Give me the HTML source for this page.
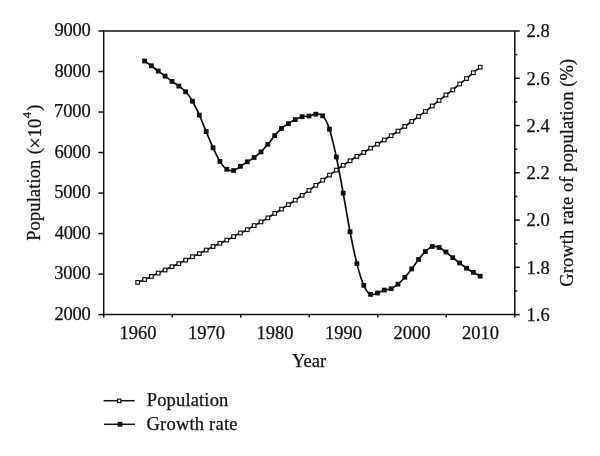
<!DOCTYPE html><html><head><meta charset="utf-8"><style>html,body{margin:0;padding:0;background:#fff;}svg{display:block;will-change:transform;}text{font-family:"Liberation Serif",serif;fill:#111;stroke:#111;stroke-width:0.25px;}</style></head><body>
<svg width="600" height="456" viewBox="0 0 600 456">
<g stroke="#111" stroke-width="1.5" fill="none" stroke-linecap="butt">
<path d="M103.7,31.0H514.8V314.6H103.7Z"/>
<path d="M98.4,31.00H103.7"/>
<path d="M98.4,71.51H103.7"/>
<path d="M98.4,112.03H103.7"/>
<path d="M98.4,152.54H103.7"/>
<path d="M98.4,193.06H103.7"/>
<path d="M98.4,233.57H103.7"/>
<path d="M98.4,274.09H103.7"/>
<path d="M98.4,314.60H103.7"/>
<path d="M514.8,31.00H519.8"/>
<path d="M514.8,54.63H517.3"/>
<path d="M514.8,78.27H519.8"/>
<path d="M514.8,101.90H517.3"/>
<path d="M514.8,125.53H519.8"/>
<path d="M514.8,149.17H517.3"/>
<path d="M514.8,172.80H519.8"/>
<path d="M514.8,196.43H517.3"/>
<path d="M514.8,220.07H519.8"/>
<path d="M514.8,243.70H517.3"/>
<path d="M514.8,267.33H519.8"/>
<path d="M514.8,290.97H517.3"/>
<path d="M514.8,314.60H519.8"/>
<path d="M103.70,314.6V317.6"/>
<path d="M172.22,314.6V317.6"/>
<path d="M240.73,314.6V317.6"/>
<path d="M309.25,314.6V317.6"/>
<path d="M377.77,314.6V317.6"/>
<path d="M446.28,314.6V317.6"/>
<path d="M514.80,314.6V317.6"/>
</g>
<path d="M137.70,282.40 C138.84,281.92 142.27,280.50 144.55,279.50 C146.83,278.50 149.12,277.47 151.40,276.40 C153.68,275.33 155.97,274.17 158.25,273.10 C160.53,272.03 162.82,271.07 165.10,270.00 C167.38,268.93 169.67,267.77 171.95,266.70 C174.23,265.63 176.52,264.70 178.80,263.60 C181.08,262.50 183.37,261.25 185.65,260.10 C187.93,258.95 190.22,257.78 192.50,256.70 C194.78,255.62 197.07,254.70 199.35,253.60 C201.63,252.50 203.92,251.28 206.20,250.10 C208.48,248.92 210.77,247.63 213.05,246.50 C215.33,245.37 217.62,244.37 219.90,243.30 C222.18,242.23 224.47,241.22 226.75,240.10 C229.03,238.98 231.32,237.78 233.60,236.60 C235.88,235.42 238.17,234.15 240.45,233.00 C242.73,231.85 245.02,230.93 247.30,229.70 C249.58,228.47 251.87,226.90 254.15,225.60 C256.43,224.30 258.72,223.18 261.00,221.90 C263.28,220.62 265.57,219.32 267.85,217.90 C270.13,216.48 272.42,214.87 274.70,213.40 C276.98,211.93 279.27,210.55 281.55,209.10 C283.83,207.65 286.12,206.18 288.40,204.70 C290.68,203.22 292.97,201.75 295.25,200.20 C297.53,198.65 299.82,197.03 302.10,195.40 C304.38,193.77 306.67,192.08 308.95,190.40 C311.23,188.72 313.52,187.00 315.80,185.30 C318.08,183.60 320.37,181.90 322.65,180.20 C324.93,178.50 327.22,176.78 329.50,175.10 C331.78,173.42 334.07,171.73 336.35,170.10 C338.63,168.47 340.92,166.85 343.20,165.30 C345.48,163.75 347.77,162.28 350.05,160.80 C352.33,159.32 354.62,157.78 356.90,156.40 C359.18,155.02 361.47,153.87 363.75,152.50 C366.03,151.13 368.32,149.58 370.60,148.20 C372.88,146.82 375.17,145.57 377.45,144.20 C379.73,142.83 382.02,141.42 384.30,140.00 C386.58,138.58 388.87,137.18 391.15,135.70 C393.43,134.22 395.72,132.65 398.00,131.10 C400.28,129.55 402.57,128.02 404.85,126.40 C407.13,124.78 409.42,123.05 411.70,121.40 C413.98,119.75 416.27,118.17 418.55,116.50 C420.83,114.83 423.12,113.15 425.40,111.40 C427.68,109.65 429.97,107.82 432.25,106.00 C434.53,104.18 436.82,102.33 439.10,100.50 C441.38,98.67 443.67,96.77 445.95,95.00 C448.23,93.23 450.52,91.73 452.80,89.90 C455.08,88.07 457.37,85.88 459.65,84.00 C461.93,82.12 464.22,80.48 466.50,78.60 C468.78,76.72 471.07,74.60 473.35,72.70 C475.63,70.80 479.06,68.12 480.20,67.20" stroke="#111" stroke-width="1.70" fill="none"/>
<rect x="135.87" y="280.57" width="3.65" height="3.65" fill="#fff" stroke="#111" stroke-width="1.15"/>
<rect x="142.72" y="277.68" width="3.65" height="3.65" fill="#fff" stroke="#111" stroke-width="1.15"/>
<rect x="149.57" y="274.57" width="3.65" height="3.65" fill="#fff" stroke="#111" stroke-width="1.15"/>
<rect x="156.42" y="271.28" width="3.65" height="3.65" fill="#fff" stroke="#111" stroke-width="1.15"/>
<rect x="163.27" y="268.18" width="3.65" height="3.65" fill="#fff" stroke="#111" stroke-width="1.15"/>
<rect x="170.12" y="264.88" width="3.65" height="3.65" fill="#fff" stroke="#111" stroke-width="1.15"/>
<rect x="176.97" y="261.78" width="3.65" height="3.65" fill="#fff" stroke="#111" stroke-width="1.15"/>
<rect x="183.82" y="258.28" width="3.65" height="3.65" fill="#fff" stroke="#111" stroke-width="1.15"/>
<rect x="190.67" y="254.87" width="3.65" height="3.65" fill="#fff" stroke="#111" stroke-width="1.15"/>
<rect x="197.52" y="251.77" width="3.65" height="3.65" fill="#fff" stroke="#111" stroke-width="1.15"/>
<rect x="204.37" y="248.27" width="3.65" height="3.65" fill="#fff" stroke="#111" stroke-width="1.15"/>
<rect x="211.22" y="244.67" width="3.65" height="3.65" fill="#fff" stroke="#111" stroke-width="1.15"/>
<rect x="218.07" y="241.47" width="3.65" height="3.65" fill="#fff" stroke="#111" stroke-width="1.15"/>
<rect x="224.92" y="238.27" width="3.65" height="3.65" fill="#fff" stroke="#111" stroke-width="1.15"/>
<rect x="231.77" y="234.77" width="3.65" height="3.65" fill="#fff" stroke="#111" stroke-width="1.15"/>
<rect x="238.62" y="231.17" width="3.65" height="3.65" fill="#fff" stroke="#111" stroke-width="1.15"/>
<rect x="245.47" y="227.87" width="3.65" height="3.65" fill="#fff" stroke="#111" stroke-width="1.15"/>
<rect x="252.32" y="223.77" width="3.65" height="3.65" fill="#fff" stroke="#111" stroke-width="1.15"/>
<rect x="259.18" y="220.07" width="3.65" height="3.65" fill="#fff" stroke="#111" stroke-width="1.15"/>
<rect x="266.03" y="216.07" width="3.65" height="3.65" fill="#fff" stroke="#111" stroke-width="1.15"/>
<rect x="272.88" y="211.57" width="3.65" height="3.65" fill="#fff" stroke="#111" stroke-width="1.15"/>
<rect x="279.72" y="207.27" width="3.65" height="3.65" fill="#fff" stroke="#111" stroke-width="1.15"/>
<rect x="286.57" y="202.87" width="3.65" height="3.65" fill="#fff" stroke="#111" stroke-width="1.15"/>
<rect x="293.43" y="198.37" width="3.65" height="3.65" fill="#fff" stroke="#111" stroke-width="1.15"/>
<rect x="300.27" y="193.57" width="3.65" height="3.65" fill="#fff" stroke="#111" stroke-width="1.15"/>
<rect x="307.12" y="188.57" width="3.65" height="3.65" fill="#fff" stroke="#111" stroke-width="1.15"/>
<rect x="313.97" y="183.47" width="3.65" height="3.65" fill="#fff" stroke="#111" stroke-width="1.15"/>
<rect x="320.82" y="178.37" width="3.65" height="3.65" fill="#fff" stroke="#111" stroke-width="1.15"/>
<rect x="327.68" y="173.27" width="3.65" height="3.65" fill="#fff" stroke="#111" stroke-width="1.15"/>
<rect x="334.52" y="168.27" width="3.65" height="3.65" fill="#fff" stroke="#111" stroke-width="1.15"/>
<rect x="341.38" y="163.47" width="3.65" height="3.65" fill="#fff" stroke="#111" stroke-width="1.15"/>
<rect x="348.22" y="158.97" width="3.65" height="3.65" fill="#fff" stroke="#111" stroke-width="1.15"/>
<rect x="355.07" y="154.57" width="3.65" height="3.65" fill="#fff" stroke="#111" stroke-width="1.15"/>
<rect x="361.93" y="150.67" width="3.65" height="3.65" fill="#fff" stroke="#111" stroke-width="1.15"/>
<rect x="368.77" y="146.37" width="3.65" height="3.65" fill="#fff" stroke="#111" stroke-width="1.15"/>
<rect x="375.62" y="142.37" width="3.65" height="3.65" fill="#fff" stroke="#111" stroke-width="1.15"/>
<rect x="382.47" y="138.17" width="3.65" height="3.65" fill="#fff" stroke="#111" stroke-width="1.15"/>
<rect x="389.32" y="133.87" width="3.65" height="3.65" fill="#fff" stroke="#111" stroke-width="1.15"/>
<rect x="396.18" y="129.27" width="3.65" height="3.65" fill="#fff" stroke="#111" stroke-width="1.15"/>
<rect x="403.02" y="124.58" width="3.65" height="3.65" fill="#fff" stroke="#111" stroke-width="1.15"/>
<rect x="409.88" y="119.58" width="3.65" height="3.65" fill="#fff" stroke="#111" stroke-width="1.15"/>
<rect x="416.72" y="114.67" width="3.65" height="3.65" fill="#fff" stroke="#111" stroke-width="1.15"/>
<rect x="423.57" y="109.58" width="3.65" height="3.65" fill="#fff" stroke="#111" stroke-width="1.15"/>
<rect x="430.43" y="104.17" width="3.65" height="3.65" fill="#fff" stroke="#111" stroke-width="1.15"/>
<rect x="437.27" y="98.67" width="3.65" height="3.65" fill="#fff" stroke="#111" stroke-width="1.15"/>
<rect x="444.12" y="93.17" width="3.65" height="3.65" fill="#fff" stroke="#111" stroke-width="1.15"/>
<rect x="450.97" y="88.08" width="3.65" height="3.65" fill="#fff" stroke="#111" stroke-width="1.15"/>
<rect x="457.82" y="82.17" width="3.65" height="3.65" fill="#fff" stroke="#111" stroke-width="1.15"/>
<rect x="464.67" y="76.77" width="3.65" height="3.65" fill="#fff" stroke="#111" stroke-width="1.15"/>
<rect x="471.52" y="70.88" width="3.65" height="3.65" fill="#fff" stroke="#111" stroke-width="1.15"/>
<rect x="478.38" y="65.38" width="3.65" height="3.65" fill="#fff" stroke="#111" stroke-width="1.15"/>
<path d="M144.55,61.00 C145.69,61.80 149.12,64.12 151.40,65.80 C153.68,67.48 155.97,69.38 158.25,71.10 C160.53,72.82 162.82,74.38 165.10,76.10 C167.38,77.82 169.67,79.73 171.95,81.40 C174.23,83.07 176.52,84.37 178.80,86.10 C181.08,87.83 183.37,89.28 185.65,91.80 C187.93,94.32 190.22,97.32 192.50,101.20 C194.78,105.08 197.07,110.03 199.35,115.10 C201.63,120.17 203.92,126.17 206.20,131.60 C208.48,137.03 210.77,142.73 213.05,147.70 C215.33,152.67 217.62,157.80 219.90,161.40 C222.18,165.00 224.47,167.78 226.75,169.30 C229.03,170.82 231.32,171.00 233.60,170.50 C235.88,170.00 238.17,167.75 240.45,166.30 C242.73,164.85 245.02,163.27 247.30,161.80 C249.58,160.33 251.87,159.15 254.15,157.50 C256.43,155.85 258.72,154.10 261.00,151.90 C263.28,149.70 265.57,147.02 267.85,144.30 C270.13,141.58 272.42,138.25 274.70,135.60 C276.98,132.95 279.27,130.40 281.55,128.40 C283.83,126.40 286.12,125.07 288.40,123.60 C290.68,122.13 292.97,120.75 295.25,119.60 C297.53,118.45 299.82,117.30 302.10,116.70 C304.38,116.10 306.67,116.42 308.95,116.00 C311.23,115.58 313.52,114.23 315.80,114.20 C318.08,114.17 320.37,113.30 322.65,115.80 C324.93,118.30 327.22,122.33 329.50,129.20 C331.78,136.07 334.07,146.35 336.35,157.00 C338.63,167.65 340.92,180.63 343.20,193.10 C345.48,205.57 347.77,220.05 350.05,231.80 C352.33,243.55 354.62,254.68 356.90,263.60 C359.18,272.52 361.47,280.17 363.75,285.30 C366.03,290.43 368.32,293.12 370.60,294.40 C372.88,295.68 375.17,293.72 377.45,293.00 C379.73,292.28 382.02,290.82 384.30,290.10 C386.58,289.38 388.87,289.68 391.15,288.70 C393.43,287.72 395.72,286.10 398.00,284.20 C400.28,282.30 402.57,279.85 404.85,277.30 C407.13,274.75 409.42,271.87 411.70,268.90 C413.98,265.93 416.27,262.40 418.55,259.50 C420.83,256.60 423.12,253.67 425.40,251.50 C427.68,249.33 429.97,247.17 432.25,246.50 C434.53,245.83 436.82,246.58 439.10,247.50 C441.38,248.42 443.67,250.30 445.95,252.00 C448.23,253.70 450.52,255.87 452.80,257.70 C455.08,259.53 457.37,261.25 459.65,263.00 C461.93,264.75 464.22,266.63 466.50,268.20 C468.78,269.77 471.07,271.07 473.35,272.40 C475.63,273.73 479.06,275.57 480.20,276.20" stroke="#111" stroke-width="1.70" fill="none"/>
<rect x="142.15" y="58.60" width="4.8" height="4.8" fill="#111"/>
<rect x="149.00" y="63.40" width="4.8" height="4.8" fill="#111"/>
<rect x="155.85" y="68.70" width="4.8" height="4.8" fill="#111"/>
<rect x="162.70" y="73.70" width="4.8" height="4.8" fill="#111"/>
<rect x="169.55" y="79.00" width="4.8" height="4.8" fill="#111"/>
<rect x="176.40" y="83.70" width="4.8" height="4.8" fill="#111"/>
<rect x="183.25" y="89.40" width="4.8" height="4.8" fill="#111"/>
<rect x="190.10" y="98.80" width="4.8" height="4.8" fill="#111"/>
<rect x="196.95" y="112.70" width="4.8" height="4.8" fill="#111"/>
<rect x="203.80" y="129.20" width="4.8" height="4.8" fill="#111"/>
<rect x="210.65" y="145.30" width="4.8" height="4.8" fill="#111"/>
<rect x="217.50" y="159.00" width="4.8" height="4.8" fill="#111"/>
<rect x="224.35" y="166.90" width="4.8" height="4.8" fill="#111"/>
<rect x="231.20" y="168.10" width="4.8" height="4.8" fill="#111"/>
<rect x="238.05" y="163.90" width="4.8" height="4.8" fill="#111"/>
<rect x="244.90" y="159.40" width="4.8" height="4.8" fill="#111"/>
<rect x="251.75" y="155.10" width="4.8" height="4.8" fill="#111"/>
<rect x="258.60" y="149.50" width="4.8" height="4.8" fill="#111"/>
<rect x="265.45" y="141.90" width="4.8" height="4.8" fill="#111"/>
<rect x="272.30" y="133.20" width="4.8" height="4.8" fill="#111"/>
<rect x="279.15" y="126.00" width="4.8" height="4.8" fill="#111"/>
<rect x="286.00" y="121.20" width="4.8" height="4.8" fill="#111"/>
<rect x="292.85" y="117.20" width="4.8" height="4.8" fill="#111"/>
<rect x="299.70" y="114.30" width="4.8" height="4.8" fill="#111"/>
<rect x="306.55" y="113.60" width="4.8" height="4.8" fill="#111"/>
<rect x="313.40" y="111.80" width="4.8" height="4.8" fill="#111"/>
<rect x="320.25" y="113.40" width="4.8" height="4.8" fill="#111"/>
<rect x="327.10" y="126.80" width="4.8" height="4.8" fill="#111"/>
<rect x="333.95" y="154.60" width="4.8" height="4.8" fill="#111"/>
<rect x="340.80" y="190.70" width="4.8" height="4.8" fill="#111"/>
<rect x="347.65" y="229.40" width="4.8" height="4.8" fill="#111"/>
<rect x="354.50" y="261.20" width="4.8" height="4.8" fill="#111"/>
<rect x="361.35" y="282.90" width="4.8" height="4.8" fill="#111"/>
<rect x="368.20" y="292.00" width="4.8" height="4.8" fill="#111"/>
<rect x="375.05" y="290.60" width="4.8" height="4.8" fill="#111"/>
<rect x="381.90" y="287.70" width="4.8" height="4.8" fill="#111"/>
<rect x="388.75" y="286.30" width="4.8" height="4.8" fill="#111"/>
<rect x="395.60" y="281.80" width="4.8" height="4.8" fill="#111"/>
<rect x="402.45" y="274.90" width="4.8" height="4.8" fill="#111"/>
<rect x="409.30" y="266.50" width="4.8" height="4.8" fill="#111"/>
<rect x="416.15" y="257.10" width="4.8" height="4.8" fill="#111"/>
<rect x="423.00" y="249.10" width="4.8" height="4.8" fill="#111"/>
<rect x="429.85" y="244.10" width="4.8" height="4.8" fill="#111"/>
<rect x="436.70" y="245.10" width="4.8" height="4.8" fill="#111"/>
<rect x="443.55" y="249.60" width="4.8" height="4.8" fill="#111"/>
<rect x="450.40" y="255.30" width="4.8" height="4.8" fill="#111"/>
<rect x="457.25" y="260.60" width="4.8" height="4.8" fill="#111"/>
<rect x="464.10" y="265.80" width="4.8" height="4.8" fill="#111"/>
<rect x="470.95" y="270.00" width="4.8" height="4.8" fill="#111"/>
<rect x="477.80" y="273.80" width="4.8" height="4.8" fill="#111"/>
<text x="54.60" y="36.30" font-size="18.50" textLength="36.10" lengthAdjust="spacing">9000</text>
<text x="54.50" y="76.81" font-size="18.50" textLength="36.21" lengthAdjust="spacing">8000</text>
<text x="53.98" y="117.33" font-size="18.50" textLength="36.72" lengthAdjust="spacing">7000</text>
<text x="54.41" y="157.84" font-size="18.50" textLength="36.30" lengthAdjust="spacing">6000</text>
<text x="54.13" y="198.36" font-size="18.50" textLength="36.58" lengthAdjust="spacing">5000</text>
<text x="54.84" y="238.87" font-size="18.50" textLength="35.87" lengthAdjust="spacing">4000</text>
<text x="54.31" y="279.39" font-size="18.50" textLength="36.39" lengthAdjust="spacing">3000</text>
<text x="54.39" y="319.90" font-size="18.50" textLength="36.32" lengthAdjust="spacing">2000</text>
<text x="526.5" y="37.30" font-size="18.5">2.8</text>
<text x="526.5" y="84.57" font-size="18.5">2.6</text>
<text x="526.5" y="131.83" font-size="18.5">2.4</text>
<text x="526.5" y="179.10" font-size="18.5">2.2</text>
<text x="526.5" y="226.37" font-size="18.5">2.0</text>
<text x="526.5" y="273.63" font-size="18.5">1.8</text>
<text x="526.5" y="320.90" font-size="18.5">1.6</text>
<text x="137.96" y="338.9" font-size="18.5" text-anchor="middle">1960</text>
<text x="206.47" y="338.9" font-size="18.5" text-anchor="middle">1970</text>
<text x="274.99" y="338.9" font-size="18.5" text-anchor="middle">1980</text>
<text x="343.51" y="338.9" font-size="18.5" text-anchor="middle">1990</text>
<text x="412.02" y="338.9" font-size="18.5" text-anchor="middle">2000</text>
<text x="480.54" y="338.9" font-size="18.5" text-anchor="middle">2010</text>
<text x="309" y="367.1" font-size="18.5" text-anchor="middle">Year</text>
<g transform="rotate(-90)">
<text x="-240.83" y="40.20" font-size="18.50" textLength="81.11" lengthAdjust="spacing">Population</text>
<text x="-154.30" y="40.30" font-size="18.50">(</text>
<text x="-148.80" y="42.15" font-size="20.00">×</text>
<text x="-137.20" y="40.60" font-size="18.50">10</text>
<text x="-118.25" y="31.40" font-size="12.60">4</text>
<text x="-110.70" y="40.30" font-size="18.50">)</text>
</g>
<g transform="rotate(-90)">
<text x="-286.76" y="573.30" font-size="18.50" textLength="227.97" lengthAdjust="spacing">Growth rate of population (%)</text>
</g>
<g stroke="#111" stroke-width="1.5"><path d="M103.6,400.7H134.7"/><path d="M104,424.3H135"/></g>
<rect x="117.5" y="399.1" width="3.4" height="3.4" fill="#fff" stroke="#111" stroke-width="1.2"/>
<rect x="117.6" y="421.9" width="4.8" height="4.8" fill="#111"/>
<text x="146.77" y="406.00" font-size="18.50" textLength="81.51" lengthAdjust="spacing">Population</text>
<text x="146.54" y="430.00" font-size="18.50" textLength="90.90" lengthAdjust="spacing">Growth rate</text>
</svg></body></html>
